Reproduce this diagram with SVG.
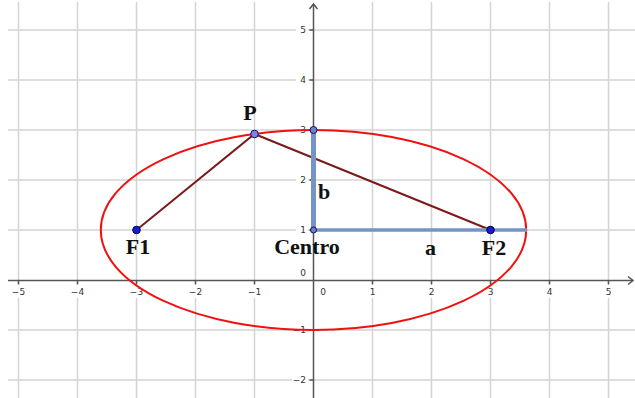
<svg xmlns="http://www.w3.org/2000/svg" width="635" height="398" viewBox="0 0 635 398">
<style>
.grid{stroke:#d4d4d4;stroke-width:1.5;fill:none}
.axis{stroke:#555;stroke-width:1.5;fill:none}
.tick{font-family:"DejaVu Sans",sans-serif;font-size:9px;fill:#333}
.bg{fill:#fff}
.lbl{font-family:"Liberation Serif",serif;font-size:22px;font-weight:bold;fill:#111}
.seg{stroke:#7b1a1a;stroke-width:2;fill:none}
.blue{stroke:#7594c6;fill:none;stroke-linecap:butt}
</style>
<rect width="635" height="398" fill="#fff"/>
<g id="grid">
<path class="grid" d="M18.5 2V398M77.5 2V398M136.5 2V398M195.5 2V398M254.5 2V398M372.5 2V398M431.5 2V398M490.5 2V398M549.5 2V398M608.5 2V398"/>
<path class="grid" d="M8 30H635M8 80H635M8 130H635M8 180H635M8 230H635M8 330H635M8 380H635"/>
</g>
<g id="tick-labels">
<rect class="bg" x="296" y="24" width="12" height="12"/>
<rect class="bg" x="296" y="74" width="12" height="12"/>
<rect class="bg" x="296" y="124" width="12" height="12"/>
<rect class="bg" x="296" y="174" width="12" height="12"/>
<rect class="bg" x="296" y="224" width="12" height="12"/>
<rect class="bg" x="292" y="324" width="16" height="12"/>
<rect class="bg" x="292" y="374" width="16" height="12"/>
<rect class="bg" x="8" y="284" width="620" height="14"/>
<text class="tick" x="306" y="33" text-anchor="end">5</text>
<text class="tick" x="306" y="83" text-anchor="end">4</text>
<text class="tick" x="306" y="133" text-anchor="end">3</text>
<text class="tick" x="306" y="183" text-anchor="end">2</text>
<text class="tick" x="306" y="233" text-anchor="end">1</text>
<text class="tick" x="306" y="276" text-anchor="end">0</text>
<text class="tick" x="306" y="333" text-anchor="end">−1</text>
<text class="tick" x="306" y="383" text-anchor="end">−2</text>
<text class="tick" x="18.5" y="295" text-anchor="middle">−5</text>
<text class="tick" x="77.5" y="295" text-anchor="middle">−4</text>
<text class="tick" x="136.5" y="295" text-anchor="middle">−3</text>
<text class="tick" x="195.5" y="295" text-anchor="middle">−2</text>
<text class="tick" x="254.5" y="295" text-anchor="middle">−1</text>
<text class="tick" x="323" y="295" text-anchor="middle">0</text>
<text class="tick" x="372.5" y="295" text-anchor="middle">1</text>
<text class="tick" x="431.5" y="295" text-anchor="middle">2</text>
<text class="tick" x="490.5" y="295" text-anchor="middle">3</text>
<text class="tick" x="549.5" y="295" text-anchor="middle">4</text>
<text class="tick" x="608.5" y="295" text-anchor="middle">5</text>
</g>
<g id="axes">
<path class="axis" d="M8 280.5H633M313.5 398V4"/>
<path class="axis" d="M628 276.5L633 280.5L628 284.5M309.5 9L313.5 4L317.5 9"/>
<path class="axis" d="M18.5 280.5v4M77.5 280.5v4M136.5 280.5v4M195.5 280.5v4M254.5 280.5v4M372.5 280.5v4M431.5 280.5v4M490.5 280.5v4M549.5 280.5v4M608.5 280.5v4"/>
<path class="axis" d="M313.5 30h-4M313.5 80h-4M313.5 130h-4M313.5 180h-4M313.5 230h-4M313.5 330h-4M313.5 380h-4"/>
</g>
<g id="ellipse">
<ellipse cx="313.5" cy="230" rx="212.7" ry="100" fill="none" stroke="#f01010" stroke-width="2"/>
</g>
<g id="connectors">
<path class="seg" d="M136.5 230L254.5 134L490.5 230"/>
<path class="blue" stroke-width="3.5" d="M313.5 230H527"/>
<path class="blue" stroke-width="5" d="M313.5 230V130"/>
</g>
<g id="F1">
<circle cx="136.5" cy="230" r="3.8" fill="#1a1ad0" stroke="#000050" stroke-width="1"/>
<text class="lbl" x="138" y="254" text-anchor="middle">F1</text>
</g>
<g id="F2">
<circle cx="490.5" cy="230" r="3.8" fill="#1a1ad0" stroke="#000050" stroke-width="1"/>
<text class="lbl" x="494" y="255" text-anchor="middle">F2</text>
</g>
<g id="P">
<circle cx="254.5" cy="134" r="3.8" fill="#8080f0" stroke="#101050" stroke-width="1"/>
<text class="lbl" x="250" y="120" text-anchor="middle">P</text>
</g>
<g id="top-point">
<circle cx="313.5" cy="130" r="3.5" fill="#6a7fd8" stroke="#101050" stroke-width="1"/>
<text class="lbl" x="324" y="199" text-anchor="middle">b</text>
</g>
<g id="Centro">
<circle cx="313.5" cy="230" r="3" fill="#6a7fd8" stroke="#101050" stroke-width="1"/>
<text class="lbl" x="307" y="254" text-anchor="middle">Centro</text>
</g>
<g id="a-label">
<text class="lbl" x="430.5" y="255" text-anchor="middle">a</text>
</g>
</svg>
